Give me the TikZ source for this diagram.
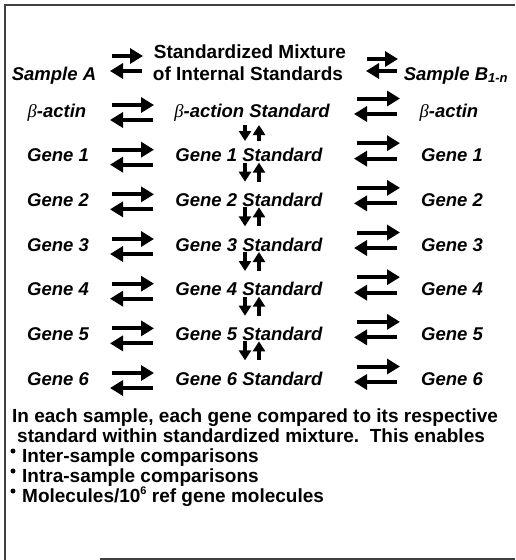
\documentclass[tikz,border=0pt]{standalone}
\usepackage{fontspec}
\setmainfont{Liberation Sans}
\newfontfamily\betafont{Liberation Serif}
\usetikzlibrary{arrows.meta}
\newcommand\bet{{\betafont\mdseries\itshape β}}
\tikzset{
  lbl/.style={font=\fontsize{18.5}{20}\selectfont\bfseries\itshape, anchor=base, inner sep=0pt},
  ttl/.style={font=\fontsize{19}{21}\selectfont\bfseries, anchor=base, inner sep=0pt},
  para/.style={font=\fontsize{19}{20}\selectfont\bfseries, anchor=base west, inner sep=0pt},
  eq/.style={line width=4pt, -{Triangle[length=13pt,width=15pt]}},
  vv/.style={line width=3.2pt, -{Triangle[length=10pt,width=12pt]}},
  frame/.style={line width=1.3pt, black!75},
  bul/.style={circle, fill=black, inner sep=0pt, minimum size=5pt},
}
\begin{document}
\begin{tikzpicture}[x=1pt,y=-1pt]
\useasboundingbox (0,0) rectangle (515,560);
% frame
\draw[frame] (5,560) -- (5,5) -- (515,5);
\draw[frame] (100,559) -- (515,559);
% header
\node[lbl] (A) at (54,80) {Sample A};
\node[ttl] (T1) at (250,58) {Standardized Mixture};
\node[ttl] (T2) at (248,80) {of Internal Standards};
\node[lbl] (B) at (456,80) {Sample B\textsubscript{\fontsize{13}{13}\selectfont 1-n}};
\coordinate (hl1) at (112,56); \coordinate (hl2) at (143,56);
\coordinate (hl3) at (142,71); \coordinate (hl4) at (110,71);
\coordinate (hr1) at (367,59); \coordinate (hr2) at (398,59);
\coordinate (hr3) at (397,71); \coordinate (hr4) at (366,71);
\draw[eq] (hl1) -- (hl2);
\draw[eq] (hl3) -- (hl4);
\draw[eq] (hr1) -- (hr2);
\draw[eq] (hr3) -- (hr4);
% rows
\node[lbl] (L0) at (57,117) {\bet-actin};
\node[lbl] (M0) at (252,117) {\bet-action Standard};
\node[lbl] (R0) at (449,117) {\bet-actin};
\foreach \i in {1,...,6}{
  \pgfmathsetmacro\b{117+44.67*\i}
  \node[lbl] (L\i) at (58,\b) {Gene \i};
  \node[lbl] (M\i) at (249,\b) {Gene \i{} Standard};
  \node[lbl] (R\i) at (452,\b) {Gene \i};
}
\foreach \i in {0,...,6}{
  \pgfmathsetmacro\b{117+44.67*\i}
  \coordinate (la\i) at (112,\b-12); \coordinate (lb\i) at (154,\b-12);
  \coordinate (lc\i) at (153,\b+3);  \coordinate (ld\i) at (110,\b+3);
  \coordinate (ra\i) at (357,\b-18.5); \coordinate (rb\i) at (400,\b-18.5);
  \coordinate (rc\i) at (397,\b-3);  \coordinate (rd\i) at (354,\b-3);
  \draw[eq] (la\i) -- (lb\i);
  \draw[eq] (lc\i) -- (ld\i);
  \draw[eq] (ra\i) -- (rb\i);
  \draw[eq] (rc\i) -- (rd\i);
}
% vertical arrows
\coordinate (d0a) at (245,125); \coordinate (d0b) at (245,141);
\coordinate (u0a) at (259,141); \coordinate (u0b) at (259,125);
\draw[vv] (d0a) -- (d0b);
\draw[vv] (u0a) -- (u0b);
\foreach \i in {1,...,5}{
  \pgfmathsetmacro\b{117+44.67*\i}
  \coordinate (d\i a) at (245,\b+1); \coordinate (d\i b) at (245,\b+20);
  \coordinate (u\i a) at (259,\b+20); \coordinate (u\i b) at (259,\b+1);
  \draw[vv] (d\i a) -- (d\i b);
  \draw[vv] (u\i a) -- (u\i b);
}
% paragraph
\node[para] (P1) at (12,422) {In each sample, each gene compared to its respective};
\node[para] (P2) at (17,442) {standard within standardized mixture.\ \ This enables};
\node[bul] (b1) at (13,451) {};
\node[para] (P3) at (22,462) {Inter-sample comparisons};
\node[bul] (b2) at (13,471) {};
\node[para] (P4) at (22,482) {Intra-sample comparisons};
\node[bul] (b3) at (13,491) {};
\node[para] (P5) at (22,502) {Molecules/10\raisebox{0.42em}{\fontsize{11}{11}\selectfont 6} ref gene molecules};
\end{tikzpicture}
\end{document}
